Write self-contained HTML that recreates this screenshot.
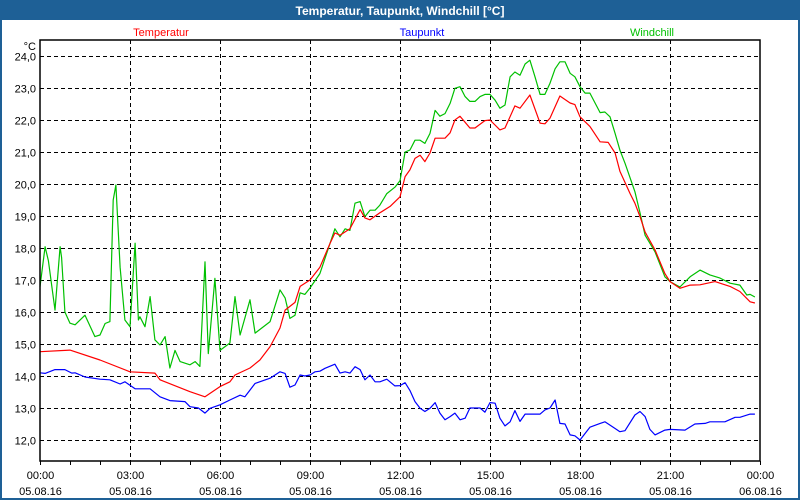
<!DOCTYPE html>
<html><head><meta charset="utf-8"><style>
html,body{margin:0;padding:0;background:#fff;}
svg{display:block;font-family:"Liberation Sans",sans-serif;}
</style></head><body>
<svg id="chart" width="800" height="500" viewBox="0 0 800 500">
<rect x="0" y="0" width="800" height="500" fill="#1e6096"/>
<rect x="2" y="20" width="796" height="478" fill="#fff"/>
<text x="400" y="15" text-anchor="middle" fill="#fff" font-weight="bold" font-size="12">Temperatur, Taupunkt, Windchill [°C]</text>
<text x="161" y="36" text-anchor="middle" fill="#ff0000" font-size="11">Temperatur</text>
<text x="422" y="36" text-anchor="middle" fill="#0000ff" font-size="11">Taupunkt</text>
<text x="652" y="36" text-anchor="middle" fill="#00c000" font-size="11">Windchill</text>
<text x="36" y="50" text-anchor="end" font-size="11" fill="#000">°C</text>
<g id="grid"></g>
<g id="series"></g>
<rect x="40" y="40" width="720" height="421" fill="none" stroke="#000" stroke-width="1.5"/>
<g id="axes"></g>
</svg>
<script>
const yTicks = [12,13,14,15,16,17,18,19,20,21,22,23,24];
const xTickHours = [0,3,6,9,12,15,18,21,24];
const xTickTimes = ["00:00","03:00","06:00","09:00","12:00","15:00","18:00","21:00","00:00"];
const xTickDates = ["05.08.16","05.08.16","05.08.16","05.08.16","05.08.16","05.08.16","05.08.16","05.08.16","06.08.16"];

const tempTimes = [0,1,2,3,3.83,4,5,5.5,6,6.33,6.5,7,7.33,7.67,8,8.17,8.5,8.67,9,9.33,9.67,9.83,10,10.33,10.67,10.83,11,11.33,11.67,12,12.17,12.33,12.5,12.67,12.83,13,13.17,13.5,13.67,13.83,14,14.33,14.5,14.83,15,15.33,15.5,15.83,16,16.33,16.67,16.83,17,17.33,17.67,17.83,18,18.33,18.67,18.94,19.17,19.33,19.67,19.83,20,20.17,20.5,20.83,21,21.33,21.67,22,22.5,23,23.33,23.67,23.83];
const tempValues = [14.76,14.81,14.5,14.13,14.09,13.88,13.51,13.35,13.67,13.82,14.03,14.25,14.5,14.92,15.5,16.06,16.3,16.8,17.0,17.4,18.15,18.47,18.4,18.6,19.2,18.94,18.88,19.1,19.3,19.6,20.23,20.44,20.8,20.9,20.7,20.97,21.43,21.43,21.6,22.0,22.12,21.75,21.75,21.98,22.0,21.69,21.75,22.44,22.37,22.78,21.9,21.88,22.06,22.75,22.53,22.48,22.1,21.8,21.32,21.3,20.97,20.4,19.7,19.4,18.98,18.5,17.94,17.2,16.95,16.74,16.84,16.85,16.95,16.8,16.64,16.32,16.28];

const dewTimes = [0,0.17,0.5,0.83,1.06,1.17,1.5,2,2.33,2.67,2.83,3.17,3.67,4,4.33,4.83,5,5.28,5.5,5.67,6,6.33,6.67,6.83,7.17,7.67,8,8.17,8.33,8.5,8.67,8.83,9,9.17,9.33,9.5,9.83,10,10.17,10.33,10.5,10.67,10.83,11,11.17,11.33,11.56,11.83,12,12.17,12.33,12.5,12.67,12.83,13,13.17,13.33,13.5,13.67,13.83,14,14.17,14.33,14.67,14.83,15,15.17,15.33,15.5,15.67,15.83,16,16.17,16.5,16.67,16.83,17,17.17,17.33,17.5,17.67,17.83,18,18.33,18.67,18.83,19.17,19.33,19.5,19.83,20,20.17,20.33,20.5,20.83,21,21.5,21.83,22.17,22.33,22.83,23.17,23.33,23.67,23.83];
const dewValues = [14.1,14.08,14.2,14.2,14.09,14.1,13.97,13.9,13.88,13.75,13.82,13.6,13.6,13.35,13.23,13.2,13.04,13.0,12.84,12.99,13.1,13.25,13.4,13.35,13.77,13.93,14.13,14.08,13.65,13.72,14.03,14.0,14.03,14.13,14.15,14.24,14.37,14.09,14.13,14.09,14.29,14.2,13.88,14.03,13.82,13.82,13.9,13.69,13.7,13.79,13.55,13.2,12.99,12.89,12.99,13.17,12.84,12.63,12.73,12.84,12.63,12.68,13.0,13.0,12.87,13.17,13.15,12.68,12.44,12.57,12.92,12.58,12.81,12.81,12.81,12.94,13.0,13.25,12.52,12.5,12.16,12.13,12.0,12.4,12.52,12.57,12.36,12.26,12.29,12.78,12.89,12.73,12.33,12.16,12.31,12.33,12.31,12.5,12.52,12.57,12.57,12.71,12.71,12.81,12.81];

const windTimes = [0,0.17,0.28,0.5,0.67,0.72,0.83,1,1.17,1.5,1.83,2,2.17,2.33,2.44,2.53,2.67,2.83,3,3.17,3.28,3.33,3.5,3.67,3.83,4,4.17,4.33,4.5,4.67,5,5.17,5.33,5.5,5.61,5.83,6,6.33,6.5,6.67,7,7.17,7.67,8,8.17,8.33,8.5,8.67,8.83,9,9.33,9.83,10,10.17,10.33,10.5,10.67,10.83,11,11.17,11.33,11.56,11.83,12,12.17,12.33,12.5,12.67,12.83,13,13.17,13.33,13.5,13.67,13.83,14,14.17,14.33,14.5,14.67,14.83,15,15.17,15.33,15.5,15.67,15.83,16,16.17,16.33,16.5,16.67,16.83,17,17.17,17.33,17.5,17.67,17.83,18,18.17,18.33,18.67,18.83,19,19.17,19.33,19.5,19.83,20,20.17,20.5,20.83,21,21.33,21.67,22,22.33,22.67,23,23.33,23.56,23.67,23.83];
const windValues = [16.79,18.04,17.6,16.06,18.04,17.7,16.0,15.65,15.6,15.9,15.23,15.28,15.64,15.7,19.5,19.97,17.4,15.75,15.54,18.15,15.75,15.85,15.54,16.48,15.13,14.97,15.23,14.25,14.8,14.45,14.35,14.45,14.3,17.57,14.7,17.05,14.8,15.03,16.48,15.28,16.38,15.34,15.7,16.69,16.44,15.8,15.9,16.6,16.55,16.75,17.2,18.6,18.35,18.6,18.55,19.4,19.45,18.98,19.18,19.18,19.34,19.7,19.9,20.1,21.0,21.06,21.37,21.37,21.27,21.58,22.3,22.12,22.2,22.52,22.99,23.04,22.73,22.58,22.58,22.73,22.8,22.8,22.62,22.37,22.47,23.35,23.5,23.4,23.75,23.87,23.35,22.8,22.8,23.15,23.6,23.82,23.82,23.46,23.35,23.04,22.84,22.84,22.23,22.25,22.1,21.58,21.06,20.65,19.76,19.1,18.4,17.88,17.1,16.95,16.78,17.1,17.31,17.16,17.06,16.9,16.84,16.53,16.55,16.47];

const NS = "http://www.w3.org/2000/svg";
const X0 = 40, X1 = 760, YTOP = 56, YBOT = 440;
function xScale(h){ return X0 + (h/24)*(X1-X0); }
function yScale(v){ return YBOT - (v-12)/(24-12)*(YBOT-YTOP); }
function mk(tag, attrs){ const e=document.createElementNS(NS,tag); for(const k in attrs) e.setAttribute(k, attrs[k]); return e; }

const grid = document.getElementById('grid');
const axes = document.getElementById('axes');
yTicks.forEach(v=>{
  const y = Math.round(yScale(v))+0.5;
  const l = mk('line',{x1:X0,x2:X1,y1:y,y2:y,stroke:'#000','stroke-width':1,'stroke-dasharray':'4,3'});
  
  
  grid.appendChild(l);
  const t = mk('text',{x:36,y:y+4,'text-anchor':'end','font-size':11,fill:'#000'});
  t.textContent = v.toFixed(1).replace('.',',');
  
  
  axes.appendChild(t);
});
xTickHours.forEach((h,i)=>{
  const x = Math.round(xScale(h))+0.5;
  if(h>0 && h<24){
    const l = mk('line',{x1:x,x2:x,y1:40,y2:461,stroke:'#000','stroke-width':1,'stroke-dasharray':'4,3'});
    
    
    grid.appendChild(l);
  }
  const t1 = mk('text',{x:x,y:479,'text-anchor':'middle','font-size':11,fill:'#000'});
  t1.textContent = xTickTimes[i];
  
  
  axes.appendChild(t1);
  const t2 = mk('text',{x:x,y:495,'text-anchor':'middle','font-size':11,fill:'#000'});
  t2.textContent = xTickDates[i];
  
  
  axes.appendChild(t2);
});
for(let h=0; h<=24; h++){
  const x = Math.round(xScale(h))+0.5;
  const tk = mk('line',{x1:x,x2:x,y1:461,y2:465,stroke:'#000','stroke-width':1});
  
  
  axes.appendChild(tk);
}
const series = document.getElementById('series');
function drawLine(times, vals, color, name){
  const pts = times.map((h,i)=>xScale(h).toFixed(1)+','+yScale(vals[i]).toFixed(1)).join(' ');
  const p = mk('polyline',{points:pts,fill:'none',stroke:color,'stroke-width':1.2,'stroke-linejoin':'round'});
  
  
  series.appendChild(p);
}
drawLine(dewTimes, dewValues, '#0000ff', 'taupunkt-line');
drawLine(windTimes, windValues, '#00c000', 'windchill-line');
drawLine(tempTimes, tempValues, '#ff0000', 'temperatur-line');
</script>
</body></html>
